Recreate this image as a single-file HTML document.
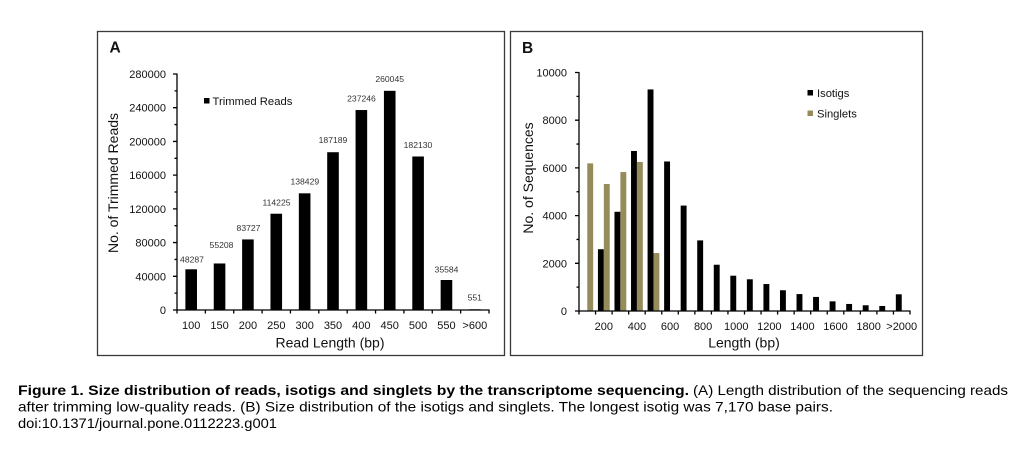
<!DOCTYPE html>
<html><head><meta charset="utf-8"><style>
html,body{margin:0;padding:0;background:#fff;}
svg{display:block;}
text{font-family:"Liberation Sans",Arial,sans-serif;}
</style></head><body>
<svg width="1019" height="453" viewBox="0 0 1019 453" xmlns="http://www.w3.org/2000/svg">
<rect width="1019" height="453" fill="#fff"/>
<!-- Panel borders -->
<rect x="97.5" y="31.5" width="407" height="324" fill="none" stroke="#3a3a3a" stroke-width="1.3"/>
<rect x="510.5" y="31.5" width="412" height="324" fill="none" stroke="#3a3a3a" stroke-width="1.3"/>

<!-- ============ Panel A ============ -->
<text x="109.5" y="52.5" font-size="15.5" font-weight="bold" fill="#111">A</text>
<g fill="#000">
<rect x="185.38" y="269.3" width="11.6" height="40.7"/>
<rect x="213.75" y="263.47" width="11.6" height="46.53"/>
<rect x="242.11" y="239.43" width="11.6" height="70.57"/>
<rect x="270.47" y="213.73" width="11.6" height="96.27"/>
<rect x="298.84" y="193.32" width="11.6" height="116.68"/>
<rect x="327.2" y="152.23" width="11.6" height="157.77"/>
<rect x="355.56" y="110.03" width="11.6" height="199.97"/>
<rect x="383.93" y="90.82" width="11.6" height="219.18"/>
<rect x="412.29" y="156.49" width="11.6" height="153.51"/>
<rect x="440.65" y="280.01" width="11.6" height="29.99"/>
<rect x="469.02" y="309.3" width="11.6" height="0.7"/>
</g>
<g font-size="8.6" fill="#333" text-anchor="middle">
<text x="192" y="262.3">48287</text>
<text x="221.5" y="248">55208</text>
<text x="248.5" y="231">83727</text>
<text x="276.5" y="205.7">114225</text>
<text x="304.8" y="184.7">138429</text>
<text x="333" y="143">187189</text>
<text x="361.5" y="101.3">237246</text>
<text x="389.7" y="82">260045</text>
<text x="418" y="148">182130</text>
<text x="446.5" y="272.3">35584</text>
<text x="474.8" y="300.7">551</text>
</g>
<g stroke="#000" stroke-width="1.3" fill="none">
<line x1="177" y1="73.5" x2="177" y2="310.6"/>
<line x1="176.4" y1="310" x2="489.6" y2="310"/>
<path d="M173,310H177M173,276.29H177M173,242.57H177M173,208.86H177M173,175.14H177M173,141.43H177M173,107.71H177M173,74H177"/>
<path d="M174.5,293.14H177M174.5,259.43H177M174.5,225.71H177M174.5,192H177M174.5,158.29H177M174.5,124.57H177M174.5,90.86H177"/>
<path d="M177,310V313.5M205.36,310V313.5M233.73,310V313.5M262.09,310V313.5M290.45,310V313.5M318.82,310V313.5M347.18,310V313.5M375.55,310V313.5M403.91,310V313.5M432.27,310V313.5M460.64,310V313.5M489,310V313.5"/>
</g>
<g font-size="11" fill="#111" text-anchor="end">
<text x="166" y="314">0</text>
<text x="166" y="280.3">40000</text>
<text x="166" y="246.6">80000</text>
<text x="166" y="212.9">120000</text>
<text x="166" y="179.1">160000</text>
<text x="166" y="145.4">200000</text>
<text x="166" y="111.7">240000</text>
<text x="166" y="78">280000</text>
</g>
<g font-size="11" fill="#111" text-anchor="middle">
<text x="191.18" y="329">100</text>
<text x="219.55" y="329">150</text>
<text x="247.91" y="329">200</text>
<text x="276.27" y="329">250</text>
<text x="304.64" y="329">300</text>
<text x="333" y="329">350</text>
<text x="361.36" y="329">400</text>
<text x="389.73" y="329">450</text>
<text x="418.09" y="329">500</text>
<text x="446.45" y="329">550</text>
<text x="474.82" y="329">&gt;600</text>
</g>
<text x="330" y="347.5" font-size="14" fill="#111" text-anchor="middle">Read Length (bp)</text>
<text transform="translate(118,183) rotate(-90)" font-size="14" fill="#111" text-anchor="middle">No. of Trimmed Reads</text>
<rect x="204" y="98" width="5.5" height="5.5" fill="#000"/>
<text x="212.5" y="105" font-size="11.3" fill="#111">Trimmed Reads</text>

<!-- ============ Panel B ============ -->
<text x="522" y="53" font-size="15.5" font-weight="bold" fill="#111">B</text>
<g fill="#000">
<rect x="597.93" y="249.23" width="5.9" height="61.77"/>
<rect x="614.48" y="211.78" width="5.9" height="99.22"/>
<rect x="631.03" y="150.97" width="5.9" height="160.03"/>
<rect x="647.58" y="89.43" width="5.9" height="221.57"/>
<rect x="664.13" y="161.46" width="5.9" height="149.54"/>
<rect x="680.68" y="205.58" width="5.9" height="105.42"/>
<rect x="697.23" y="240.4" width="5.9" height="70.6"/>
<rect x="713.78" y="264.73" width="5.9" height="46.27"/>
<rect x="730.33" y="275.7" width="5.9" height="35.3"/>
<rect x="746.88" y="279.28" width="5.9" height="31.72"/>
<rect x="763.43" y="284.05" width="5.9" height="26.95"/>
<rect x="779.98" y="290.25" width="5.9" height="20.75"/>
<rect x="796.53" y="294.07" width="5.9" height="16.93"/>
<rect x="813.08" y="296.93" width="5.9" height="14.07"/>
<rect x="829.63" y="301.34" width="5.9" height="9.66"/>
<rect x="846.18" y="303.96" width="5.9" height="7.04"/>
<rect x="862.73" y="305.28" width="5.9" height="5.72"/>
<rect x="879.28" y="305.99" width="5.9" height="5.01"/>
<rect x="895.83" y="294.3" width="5.9" height="16.7"/>
</g>
<g fill="#958b5b">
<rect x="587.28" y="163.37" width="5.9" height="147.63"/>
<rect x="603.83" y="184" width="5.9" height="127"/>
<rect x="620.38" y="172.07" width="5.9" height="138.93"/>
<rect x="636.93" y="161.94" width="5.9" height="149.06"/>
<rect x="653.48" y="253.04" width="5.9" height="57.96"/>
</g>
<g stroke="#000" stroke-width="1.3" fill="none">
<line x1="579" y1="72" x2="579" y2="311.6"/>
<line x1="578.4" y1="311" x2="910.6" y2="311"/>
<path d="M575,311H579M575,263.3H579M575,215.6H579M575,167.9H579M575,120.2H579M575,72.5H579"/>
<path d="M576.5,287.15H579M576.5,239.45H579M576.5,191.75H579M576.5,144.05H579M576.5,96.35H579"/>
<path d="M579,311V314.5M595.55,311V314.5M612.1,311V314.5M628.65,311V314.5M645.2,311V314.5M661.75,311V314.5M678.3,311V314.5M694.85,311V314.5M711.4,311V314.5M727.95,311V314.5M744.5,311V314.5M761.05,311V314.5M777.6,311V314.5M794.15,311V314.5M810.7,311V314.5M827.25,311V314.5M843.8,311V314.5M860.35,311V314.5M876.9,311V314.5M893.45,311V314.5M910,311V314.5"/>
</g>
<g font-size="11" fill="#111" text-anchor="end">
<text x="567" y="315">0</text>
<text x="567" y="267.3">2000</text>
<text x="567" y="219.6">4000</text>
<text x="567" y="171.9">6000</text>
<text x="567" y="124.2">8000</text>
<text x="567" y="76.5">10000</text>
</g>
<g font-size="11" fill="#111" text-anchor="middle">
<text x="603.83" y="330">200</text>
<text x="636.93" y="330">400</text>
<text x="670.03" y="330">600</text>
<text x="703.13" y="330">800</text>
<text x="736.23" y="330">1000</text>
<text x="769.33" y="330">1200</text>
<text x="802.43" y="330">1400</text>
<text x="835.53" y="330">1600</text>
<text x="868.63" y="330">1800</text>
<text x="901.73" y="330">&gt;2000</text>
</g>
<text x="744" y="347.5" font-size="14" fill="#111" text-anchor="middle">Length (bp)</text>
<text transform="translate(533,178) rotate(-90)" font-size="14" fill="#111" text-anchor="middle">No. of Sequences</text>
<rect x="807.5" y="90" width="5.5" height="5.5" fill="#000"/>
<text x="817" y="96.8" font-size="11.2" fill="#111">Isotigs</text>
<rect x="807.5" y="110.5" width="5.5" height="5.5" fill="#958b5b"/>
<text x="817" y="117.3" font-size="11.2" fill="#111">Singlets</text>

<!-- ============ Caption ============ -->
<text x="18" y="395" font-size="14" font-weight="bold" fill="#000" textLength="671" lengthAdjust="spacingAndGlyphs">Figure 1. Size distribution of reads, isotigs and singlets by the transcriptome sequencing.</text>
<text x="693" y="395" font-size="14" fill="#000" textLength="315" lengthAdjust="spacingAndGlyphs">(A) Length distribution of the sequencing reads</text>
<text x="18" y="411.5" font-size="14" fill="#000" textLength="815" lengthAdjust="spacingAndGlyphs">after trimming low-quality reads. (B) Size distribution of the isotigs and singlets. The longest isotig was 7,170 base pairs.</text>
<text x="18" y="428" font-size="14" fill="#000" textLength="259" lengthAdjust="spacingAndGlyphs">doi:10.1371/journal.pone.0112223.g001</text>
</svg>
</body></html>
